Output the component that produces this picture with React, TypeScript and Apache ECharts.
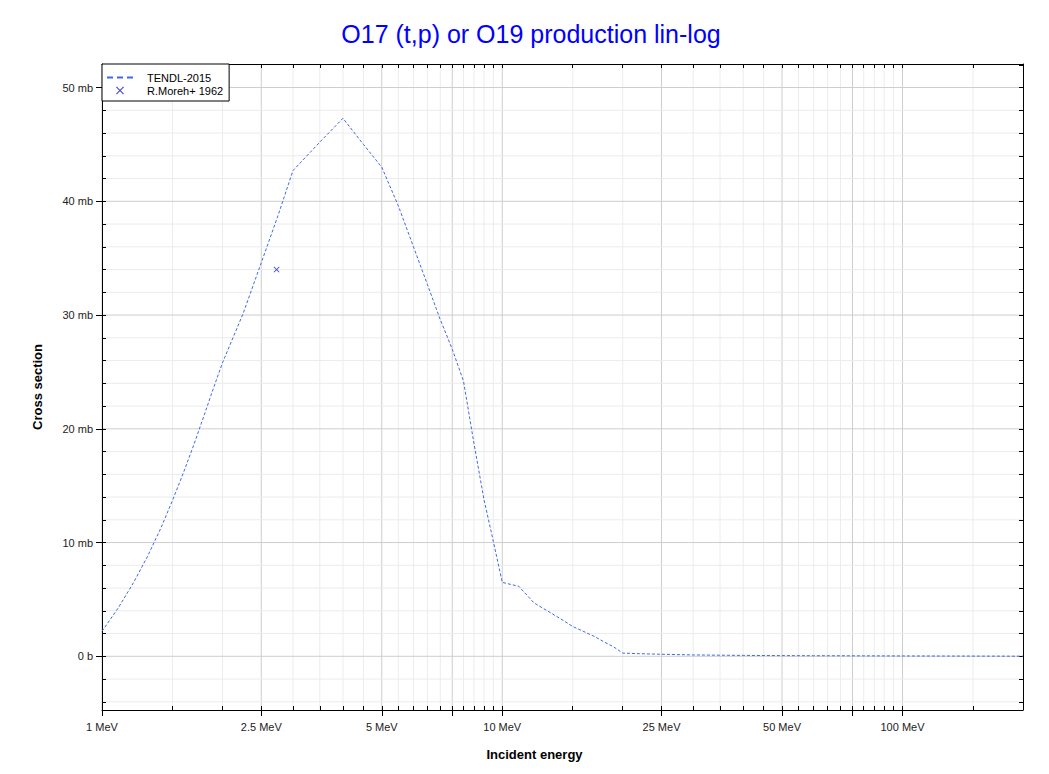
import React, { useEffect, useRef } from "react";
import * as echarts from "echarts";

// TENDL-2015 evaluation (energy in MeV, cross section in mb)
const tendlEnergy = [
  1.0, 1.1, 1.2, 1.3, 1.4, 1.5, 1.6, 1.7, 1.8, 1.9, 2.0, 2.25, 2.5, 2.75, 3.0,
  3.5, 4.0, 4.5, 5.0, 5.5, 6.0, 6.5, 7.0, 7.5, 8.0, 8.5, 9.0, 9.5, 10, 11, 12,
  13, 14, 15, 16, 17, 18, 19, 20, 22, 25, 30, 40, 50, 60, 80, 100, 150, 200,
];
const tendlXs = [
  2.2, 4.3, 6.5, 8.8, 11.2, 13.7, 16.2, 18.7, 21.2, 23.6, 25.8, 30.1, 34.6,
  38.7, 42.7, 45.2, 47.3, 45.0, 43.0, 39.6, 36.0, 32.7, 29.6, 27.0, 24.2, 18.7,
  13.8, 10.1, 6.5, 6.15, 4.7, 3.97, 3.29, 2.62, 2.17, 1.74, 1.25, 0.82, 0.28,
  0.23, 0.18, 0.12, 0.08, 0.06, 0.05, 0.04, 0.03, 0.02, 0.01,
];

// R.Moreh+ 1962 measurement
const morehEnergy = [2.73];
const morehXs = [34.0];

// Axis ticks
const xLabelValues = [1, 2.5, 5, 10, 25, 50, 100];
const xMajorValues = [1, 2.5, 5, 7.5, 10, 25, 50, 75, 100];
const xMinorValues = [
  1.5, 2, 3, 3.5, 4, 4.5, 5.5, 6, 6.5, 7, 8, 8.5, 9, 9.5, 15, 20, 30, 35, 40,
  45, 55, 60, 65, 70, 80, 85, 90, 95, 150,
];
const yMajorValues = [0, 10, 20, 30, 40, 50];
const yMinorValues = [
  -4, -2, 2, 4, 6, 8, 12, 14, 16, 18, 22, 24, 26, 28, 32, 34, 36, 38, 42, 44,
  46, 48, 52,
];

const X_MIN = 1;
const X_MAX = 200;
const Y_MIN = -4.72;
const Y_MAX = 52.07;

const FONT = "'Liberation Sans', Arial, Helvetica, sans-serif";
const XPATH =
  "path://M0,1L1,0L5,4L9,0L10,1L6,5L10,9L9,10L5,6L1,10L0,9L4,5Z";
const DASHPATH = "path://M0,0h6v2h-6zM10,0h6v2h-6zM20,0h6v2h-6z";

const lg = (v: number) => Math.log10(v);
const fmtE = (v: number) => parseFloat(Math.pow(10, v).toPrecision(4));

export default function App() {
  const ref = useRef<HTMLDivElement>(null);

  useEffect(() => {
    if (!ref.current) return;
    const chart = echarts.init(ref.current, null, { renderer: "svg" });

    const allX = [...xMajorValues, ...xMinorValues].map(lg);
    const allY = [...yMajorValues, ...yMinorValues];
    const xMin = lg(X_MIN);
    const xMax = lg(X_MAX);

    const baseX = {
      type: "value",
      min: xMin,
      max: xMax,
      splitLine: { show: false },
      axisLabel: { show: false },
    };
    const baseY = {
      type: "value",
      min: Y_MIN,
      max: Y_MAX,
      splitLine: { show: false },
      axisLabel: { show: false },
    };

    const option: any = {
      animation: false,
      backgroundColor: "#fff",
      textStyle: { fontFamily: FONT },
      title: {
        text: "O17 (t,p) or O19 production lin-log",
        left: 518,
        top: 8,
        textAlign: "center",
        textStyle: {
          color: "#0000ff",
          fontSize: 25,
          fontWeight: "normal",
          fontFamily: FONT,
        },
      },
      legend: {
        left: 94,
        top: 56,
        orient: "vertical",
        backgroundColor: "#fff",
        borderColor: "#000",
        borderWidth: 1,
        borderRadius: 0,
        padding: [8, 6, 5, 5],
        itemWidth: 26,
        itemHeight: 8,
        itemGap: 2,
        textStyle: {
          fontSize: 11,
          color: "#000",
          fontFamily: FONT,
          padding: [0, 0, 0, 9],
        },
        data: [
          { name: "TENDL-2015", icon: DASHPATH },
          { name: "R.Moreh+ 1962", icon: XPATH },
        ],
      },
      grid: { left: 94, right: 18, top: 56, bottom: 46, containLabel: false },
      xAxis: [
        {
          ...baseX,
          position: "bottom",
          axisLine: { show: true, onZero: false, lineStyle: { color: "#000", width: 1 } },
          axisTick: {
            show: true,
            inside: false,
            length: 6,
            customValues: xMajorValues.map(lg),
            lineStyle: { color: "#000" },
          },
          axisLabel: {
            show: true,
            customValues: xLabelValues.map(lg),
            formatter: (v: number) => `${fmtE(v)} MeV`,
            color: "#222",
            fontSize: 11,
            fontFamily: FONT,
            margin: 11,
          },
          name: "Incident energy",
          nameLocation: "middle",
          nameGap: 38,
          nameTextStyle: {
            fontWeight: "bold",
            fontSize: 13,
            color: "#000",
            fontFamily: FONT,
            padding: [0, 56, 0, 0],
          },
        },
        {
          ...baseX,
          position: "bottom",
          axisLine: { show: false, onZero: false },
          axisTick: {
            show: true,
            inside: true,
            length: 4,
            customValues: allX,
            lineStyle: { color: "#000" },
          },
        },
        {
          ...baseX,
          position: "top",
          axisLine: { show: true, onZero: false, lineStyle: { color: "#000", width: 1 } },
          axisTick: {
            show: true,
            inside: true,
            length: 4,
            customValues: allX,
            lineStyle: { color: "#000" },
          },
        },
      ],
      yAxis: [
        {
          ...baseY,
          position: "left",
          axisLine: { show: true, onZero: false, lineStyle: { color: "#000", width: 1 } },
          axisTick: {
            show: true,
            inside: false,
            length: 6,
            customValues: yMajorValues,
            lineStyle: { color: "#000" },
          },
          axisLabel: {
            show: true,
            customValues: yMajorValues,
            formatter: (v: number) => (v === 0 ? "0 b" : `${v} mb`),
            color: "#222",
            fontSize: 11,
            fontFamily: FONT,
            margin: 9,
          },
          name: "Cross section",
          nameLocation: "middle",
          nameGap: 58,
          nameRotate: 90,
          nameTextStyle: {
            fontWeight: "bold",
            fontSize: 13,
            color: "#000",
            fontFamily: FONT,
          },
        },
        {
          ...baseY,
          position: "left",
          axisLine: { show: false, onZero: false },
          axisTick: {
            show: true,
            inside: true,
            length: 4,
            customValues: allY,
            lineStyle: { color: "#000" },
          },
        },
        {
          ...baseY,
          position: "right",
          axisLine: { show: true, onZero: false, lineStyle: { color: "#000", width: 1 } },
          axisTick: {
            show: true,
            inside: true,
            length: 4,
            customValues: allY,
            lineStyle: { color: "#000" },
          },
        },
      ],
      series: [
        {
          type: "custom",
          name: "vgrid",
          silent: true,
          z: 0,
          xAxisIndex: 0,
          yAxisIndex: 0,
          data: [
            ...xMinorValues.map((v) => [lg(v), 0]),
            ...xMajorValues.map((v) => [lg(v), 1]),
          ],
          renderItem: (_p: any, api: any) => {
            const x = api.value(0);
            const major = api.value(1);
            const a = api.coord([x, Y_MIN]);
            const b = api.coord([x, Y_MAX]);
            return {
              type: "line",
              shape: { x1: a[0], y1: a[1], x2: b[0], y2: b[1] },
              style: { stroke: major ? "#cdcdcd" : "#ececec", lineWidth: 1 },
            };
          },
        },
        {
          type: "custom",
          name: "hgrid",
          silent: true,
          z: 0,
          xAxisIndex: 0,
          yAxisIndex: 0,
          data: [
            ...yMinorValues.map((v) => [xMin, v, 0]),
            ...yMajorValues.map((v) => [xMin, v, 1]),
          ],
          renderItem: (_p: any, api: any) => {
            const y = api.value(1);
            const major = api.value(2);
            const a = api.coord([xMin, y]);
            const b = api.coord([xMax, y]);
            return {
              type: "line",
              shape: { x1: a[0], y1: a[1], x2: b[0], y2: b[1] },
              style: { stroke: major ? "#cdcdcd" : "#ececec", lineWidth: 1 },
            };
          },
        },
        {
          type: "line",
          name: "TENDL-2015",
          z: 3,
          xAxisIndex: 0,
          yAxisIndex: 0,
          symbol: "none",
          showSymbol: false,
          data: tendlEnergy.map((e, i) => [lg(e), tendlXs[i]]),
          lineStyle: { color: "#4169e1", width: 1, type: [3, 2] },
          itemStyle: { color: "#4169e1" },
        },
        {
          type: "scatter",
          name: "R.Moreh+ 1962",
          z: 4,
          xAxisIndex: 0,
          yAxisIndex: 0,
          symbol: XPATH,
          symbolSize: 6,
          data: morehEnergy.map((e, i) => [lg(e), morehXs[i]]),
          itemStyle: { color: "#1a1acd" },
        },
      ],
    };

    chart.setOption(option);
    return () => chart.dispose();
  }, []);

  return <div ref={ref} style={{ width: 1033, height: 758 }} />;
}
